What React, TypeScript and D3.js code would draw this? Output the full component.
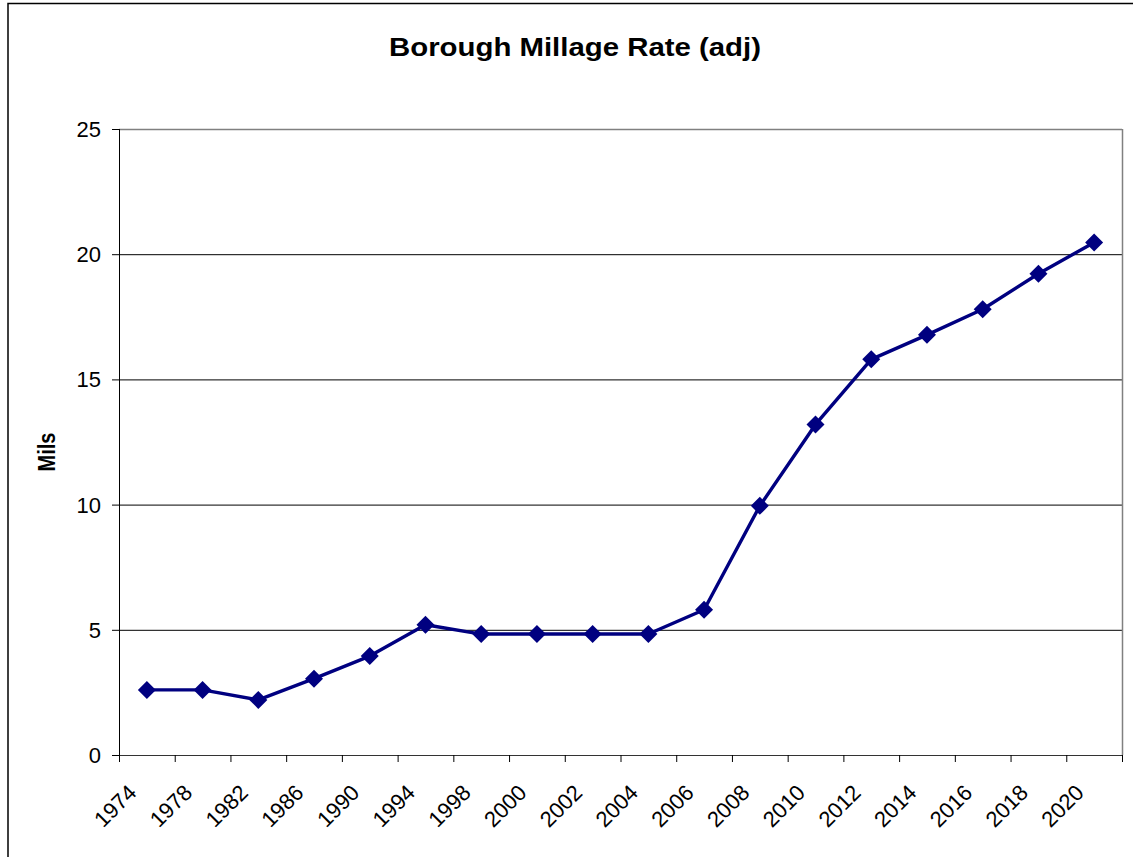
import React from "react";
import * as d3 from "d3";

const years = ["1974","1978","1982","1986","1990","1994","1998","2000","2002","2004","2006","2008","2010","2012","2014","2016","2018","2020"];
const mils = [2.6, 2.6, 2.2, 3.05, 3.95, 5.2, 4.83, 4.83, 4.83, 4.83, 5.8, 9.95, 13.2, 15.8, 16.78, 17.8, 19.22, 20.47];
const yTicks = [0, 5, 10, 15, 20, 25];
const title = "Borough Millage Rate (adj)";
const yTitle = "Mils";

export default function App() {
  const W = 1133, H = 857;
  const left = 119, right = 1122, top = 129, bottom = 755;
  const x = d3.scaleBand<string>().domain(years).range([left, right]).padding(0);
  const y = d3.scaleLinear().domain([0, 25]).range([bottom, top]);
  const cx = (d: string) => (x(d) as number) + x.bandwidth() / 2;
  const line = d3.line<number>().x((_, i) => cx(years[i])).y((v) => y(v));
  const font = "'Liberation Sans', Arial, Helvetica, sans-serif";
  const bounds = years.map((d) => x(d) as number).concat([right]);
  const r = 9;
  return (
    <svg width={W} height={H} style={{ position: "absolute", left: 0, top: 0, background: "#fff" }} fontFamily={font}>
      <rect x={0} y={0} width={W} height={H} fill="#fff" />
      <rect x={8} y={3.5} width={W + 20} height={H + 20} fill="none" stroke="#000" strokeWidth={1.5} />
      <text x={575} y={56} textAnchor="middle" fontSize={26} fontWeight="bold" textLength={372} lengthAdjust="spacingAndGlyphs">{title}</text>
      <text transform={`translate(55,452) scale(1.2,1) rotate(-90)`} textAnchor="middle" fontSize={20} fontWeight="bold">{yTitle}</text>
      {yTicks.filter((t) => t > 0 && t < 25).map((t) => (
        <line key={"g" + t} x1={left} x2={right} y1={y(t) + 0.5} y2={y(t) + 0.5} stroke="#000" strokeWidth={1} />
      ))}
      <line x1={left} x2={right} y1={top + 0.5} y2={top + 0.5} stroke="#808080" strokeWidth={1.5} />
      <line x1={right + 0.5} x2={right + 0.5} y1={top} y2={bottom} stroke="#808080" strokeWidth={1.5} />
      <line x1={left + 0.5} x2={left + 0.5} y1={top} y2={bottom + 1} stroke="#000" strokeWidth={1} />
      <line x1={left} x2={right + 1} y1={bottom + 0.5} y2={bottom + 0.5} stroke="#333" strokeWidth={1.2} />
      {yTicks.map((t) => (
        <g key={"y" + t}>
          <line x1={112} x2={left} y1={y(t) + 0.5} y2={y(t) + 0.5} stroke="#000" strokeWidth={1} />
          <text x={101} y={y(t) + 8} textAnchor="end" fontSize={22}>{t}</text>
        </g>
      ))}
      {bounds.map((b, i) => (
        <line key={"xt" + i} x1={b + 0.5} x2={b + 0.5} y1={bottom} y2={bottom + 7} stroke="#000" strokeWidth={1} />
      ))}
      {years.map((d) => (
        <text key={"xl" + d} transform={`translate(${cx(d) - 9},${bottom + 39}) rotate(-45)`} textAnchor="end" fontSize={22}>{d}</text>
      ))}
      <path d={line(mils) as string} fill="none" stroke="#000080" strokeWidth={3.4} strokeLinejoin="round" />
      {mils.map((v, i) => {
        const px = cx(years[i]), py = y(v);
        return <path key={"m" + i} d={`M${px},${py - r}L${px + r},${py}L${px},${py + r}L${px - r},${py}Z`} fill="#000080" />;
      })}
    </svg>
  );
}
